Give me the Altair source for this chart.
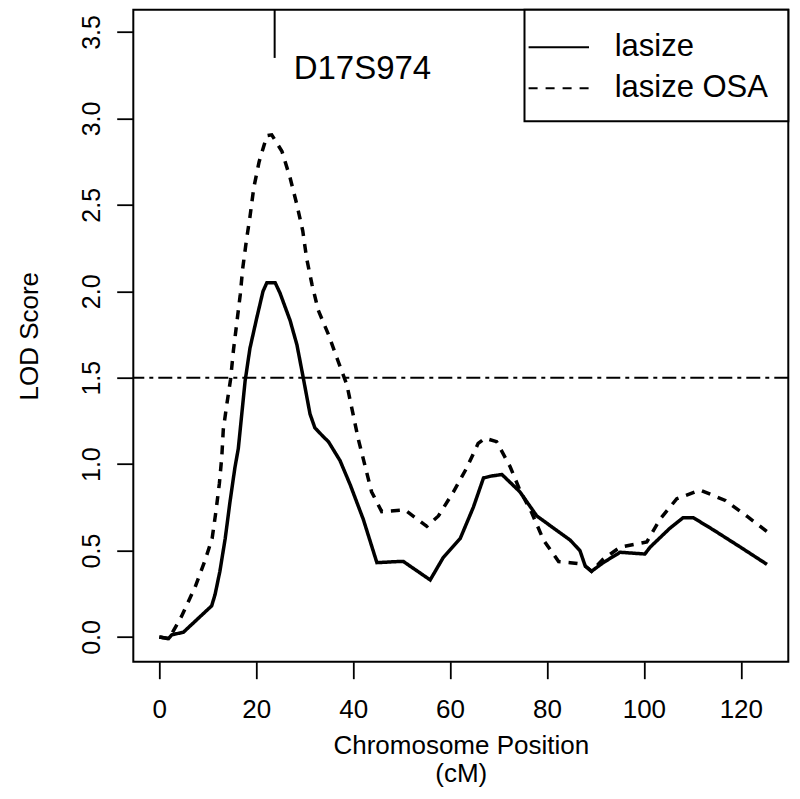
import altair as alt
import pandas as pd

# ---- data ----
series_names = ["lasize", "lasize OSA"]

pos_lasize = [0, 1.9, 2.6, 4.95, 10.8, 11.5, 12.5, 13.6, 14.6, 15.6, 16.3, 17.7, 18.7, 20.1,
              21.4, 22.2, 23.9, 24.9, 27.0, 28.4, 29.7, 31.1, 32.1, 33.8, 34.9, 37.3, 39.4,
              42.1, 44.9, 49.0, 50.4, 55.9, 58.6, 62.1, 64.8, 66.9, 68.3, 70.7, 74.4, 77.9,
              84.8, 86.8, 87.9, 89.2, 91.6, 95.1, 100.2, 101.3, 105.4, 108.1, 110.2, 114.3,
              119.9, 125.4]
lod_lasize = [0.0, -0.01, 0.013, 0.027, 0.18, 0.245, 0.38, 0.57, 0.785, 0.98, 1.09, 1.48, 1.67,
              1.845, 2.0, 2.05, 2.05, 1.99, 1.83, 1.69, 1.50, 1.29, 1.21, 1.16, 1.13, 1.02, 0.88,
              0.68, 0.43, 0.436, 0.436, 0.33, 0.46, 0.57, 0.75, 0.92, 0.93, 0.94, 0.84, 0.70,
              0.56, 0.50, 0.41, 0.38, 0.43, 0.49, 0.48, 0.52, 0.63, 0.69, 0.69, 0.62, 0.52, 0.42]

pos_osa = [0, 2.0, 4.6, 7.4, 9.4, 10.9, 11.7, 12.4, 12.9, 13.2, 13.9, 14.7, 15.3, 16.0, 16.7,
           17.2, 18.0, 18.7, 19.5, 20.6, 22.2, 23.2, 25.3, 27.0, 28.4, 29.6, 30.4, 31.5, 32.8,
           34.9, 36.9, 38.7, 41.1, 42.5, 43.8, 45.9, 50.7, 55.2, 57.6, 60.7, 63.4, 65.8, 67.2,
           69.6, 72.4, 74.4, 76.9, 79.3, 82.4, 84.8, 87.5, 89.2, 91.6, 95.1, 100.6, 103.3,
           106.8, 111.6, 116.8, 121.2, 125.4]
lod_osa = [0.0, -0.01, 0.12, 0.29, 0.44, 0.57, 0.73, 0.89, 1.045, 1.20, 1.34, 1.49, 1.66, 1.82,
           1.98, 2.13, 2.30, 2.43, 2.60, 2.75, 2.90, 2.905, 2.81, 2.655, 2.50, 2.35, 2.19, 2.04,
           1.89, 1.75, 1.595, 1.46, 1.14, 0.985, 0.84, 0.725, 0.735, 0.64, 0.70, 0.84, 0.976,
           1.12, 1.15, 1.13, 0.985, 0.85, 0.716, 0.56, 0.436, 0.43, 0.42, 0.38, 0.45, 0.52, 0.55,
           0.68, 0.80, 0.85, 0.79, 0.70, 0.61]

threshold = [1.5]
marker_pos = [23.8]
marker_base = [3.35]
marker_names = ["D17S974"]

x_ticks = [0, 20, 40, 60, 80, 100, 120]
y_ticks = [0.0, 0.5, 1.0, 1.5, 2.0, 2.5, 3.0, 3.5]

# ---- tables ----
df_lines = pd.concat([
    pd.DataFrame({"pos": pos_lasize, "lod": lod_lasize, "series": series_names[0],
                  "order": range(len(pos_lasize))}),
    pd.DataFrame({"pos": pos_osa, "lod": lod_osa, "series": series_names[1],
                  "order": range(len(pos_osa))}),
], ignore_index=True)
df_thr = pd.DataFrame({"lod": threshold})
df_marker = pd.DataFrame({"pos": marker_pos, "lod": marker_base, "name": marker_names})
df_series = pd.DataFrame({"series": series_names})
df_box = pd.DataFrame({"k": [0]})

FONT = "Liberation Sans"
W, H = 655, 652
X_DOMAIN = [-5.37, 129.8]
Y_DOMAIN = [-0.143, 3.629]

x_enc = alt.X("pos:Q",
              scale=alt.Scale(domain=X_DOMAIN, nice=False, zero=False),
              axis=alt.Axis(values=x_ticks, format="d", title=["Chromosome Position", "(cM)"],
                            labelFontSize=26, titleFontSize=26, tickSize=17,
                            labelPadding=38.5, labelBaseline="alphabetic",
                            titleY=92.3, titleBaseline="alphabetic", titleLineHeight=28))
y_enc = alt.Y("lod:Q",
              scale=alt.Scale(domain=Y_DOMAIN, nice=False, zero=False),
              axis=alt.Axis(values=y_ticks, format=".1f", title="LOD Score",
                            labelFontSize=25, titleFontSize=26, tickSize=16.6,
                            labelAngle=270, labelAlign="center", labelBaseline="alphabetic",
                            labelPadding=17,
                            titleAngle=270, titleAlign="center", titleBaseline="alphabetic",
                            titleX=-96))

dash_scale = alt.Scale(domain=series_names, range=[[1, 0], [9, 8]])

lines = alt.Chart(df_lines).mark_line(color="black", strokeWidth=3.5, clip=True).encode(
    x=x_enc,
    y=y_enc,
    order="order:Q",
    strokeDash=alt.StrokeDash("series:N", scale=dash_scale, legend=None),
)

# ---- legend (box + one row per series, samples use the same dash scale) ----
legend_box = alt.Chart(df_box).mark_rect(fill="white", stroke="black", strokeWidth=2).encode(
    x=alt.value(391.2), x2=alt.value(W), y=alt.value(0), y2=alt.value(111.5)
)
ROW_Y = [37.5, 78.5]
legend_layers = []
for name, ry in zip(series_names, ROW_Y):
    base = alt.Chart(df_series).transform_filter(alt.datum.series == name)
    legend_layers.append(
        base.mark_rule(color="black", strokeWidth=2).encode(
            x=alt.value(395.3), x2=alt.value(455.7), y=alt.value(ry),
            strokeDash=alt.StrokeDash("series:N", scale=dash_scale, legend=None))
    )
    legend_layers.append(
        base.mark_text(align="left", baseline="middle", fontSize=31, font=FONT,
                       color="black").encode(
            x=alt.value(481.4), y=alt.value(ry), text="series:N")
    )

thr_rule = alt.Chart(df_thr).mark_rule(color="black", strokeWidth=2,
                                       strokeDash=[14, 5, 4, 5]).encode(y=y_enc)

marker_rule = alt.Chart(df_marker).mark_rule(color="black", strokeWidth=2).encode(
    x=x_enc, y=y_enc, y2=alt.value(0)
)
marker_text = alt.Chart(df_marker).mark_text(align="left", baseline="alphabetic", dx=19,
                                             fontSize=33, font=FONT, color="black").encode(
    x=x_enc, y=alt.value(69), text="name:N"
)

chart = alt.layer(thr_rule, lines, marker_rule, marker_text, legend_box,
                  *legend_layers).properties(
    width=W, height=H,
    autosize=alt.AutoSizeParams(type="none"),
    padding={"left": 125.3, "top": 1.7, "right": 2, "bottom": 128},
    background="white",
).configure_view(stroke="black", strokeWidth=2).configure_axis(
    domain=False, grid=False, tickColor="black", tickWidth=1.8,
    labelColor="black", titleColor="black", labelFont=FONT, titleFont=FONT,
    titleFontWeight="normal",
)

chart.save("out.html", embed_options={"renderer": "svg", "actions": False})
